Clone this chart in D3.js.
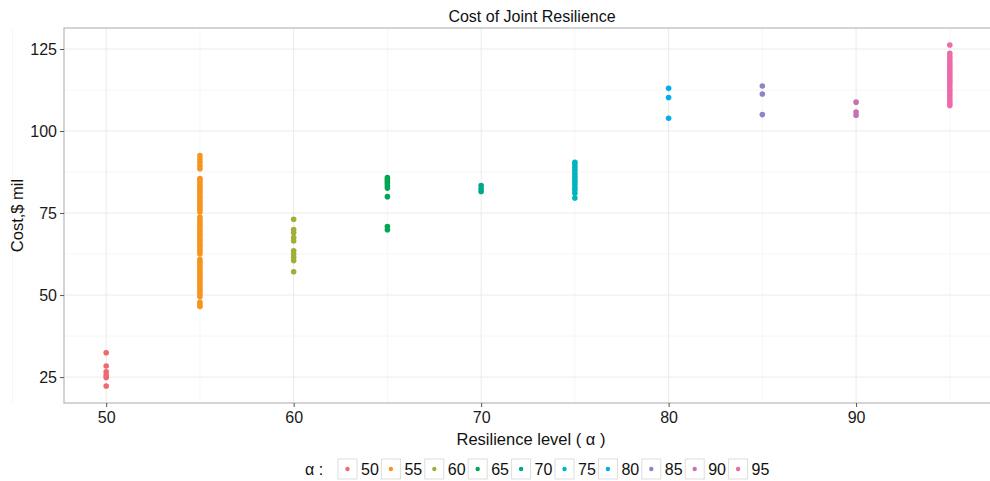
<!DOCTYPE html>
<meta charset="utf-8">
<script src="https://d3js.org/d3.v7.min.js"></script>
<style>
  body { margin: 0; background: #fff; }
  text { font-family: "Liberation Sans", Arial, sans-serif; }
</style>
<div id="chart"></div>
<script>

// resilience levels and the costs ($ mil)
var levels = [50, 55, 60, 65, 70, 75, 80, 85, 90, 95];
var colors = ["#EE6A6E", "#F7941D", "#A3AD3A", "#00A651", "#00A88A",
              "#00B4C0", "#00AEEF", "#8C87C4", "#C771B5", "#EE6AA8"];

var cost50 = [32.4, 28.4, 26.6, 25.6, 24.9, 22.3];
var cost55 = [92.5, 91.5, 90.5, 89.5, 88.5,
              85.5, 85, 84.2, 83.5, 82.8, 82, 81.3, 80.5, 79.8, 79, 78.3, 77.5, 76.8, 76, 75.3,
              73.8, 73, 72.3, 71.5, 70.8, 70, 69.3, 68.5, 67.8, 67, 66.3, 65.5, 64.8, 64, 63.3, 62.5,
              60.8, 60, 59.3, 58.5, 57.8, 57, 56.3, 55.5, 54.8, 54, 53.3, 52.5, 51.8, 51, 50.3, 49.5,
              47.8, 47, 46.5];
var cost60 = [73.1, 70, 69, 67.5, 66.5, 63.5, 62.5, 61.5, 60.5, 57.1];
var cost65 = [85.8, 85.2, 84.6, 84, 83.3, 82.6, 80, 70.9, 69.9];
var cost70 = [83.4, 82.4, 81.6];
var cost75 = [90.5, 89.7, 88.9, 88, 87, 86.2, 85.4, 84.6, 83.8, 82.8, 82, 81, 79.6];
var cost80 = [113, 110.2, 103.9];
var cost85 = [113.7, 111.3, 105];
var cost90 = [108.8, 105.8, 104.8];
var cost95 = [126.2, 123.7, 122.8, 122, 121.2, 120.4, 119.7, 119, 118.3, 117.6, 116.9, 116.2,
              115.5, 114.8, 114, 113.2, 112.4, 111.6, 110.8, 110, 109.2, 108.5, 107.8];

var costs = [cost50, cost55, cost60, cost65, cost70, cost75, cost80, cost85, cost90, cost95];

var xTicks = [50, 60, 70, 80, 90];
var yTicks = [25, 50, 75, 100, 125];

var points = [];
levels.forEach(function(lv, i) {
  costs[i].forEach(function(c) { points.push({level: lv, cost: c, idx: i}); });
});

var W = 990, H = 481;
var panel = {left: 64, top: 28, right: 992, bottom: 403};

var svg = d3.select("#chart").append("svg")
    .attr("width", W)
    .attr("height", H);

var x = d3.scaleLinear().domain([47.75, 97.25]).range([panel.left, panel.right]);
var y = d3.scaleLinear().domain([17.1, 131.4]).range([panel.bottom, panel.top]);

// grid: minor then major
var grid = svg.append("g");
[45, 55, 65, 75, 85, 95].forEach(function(v) {
  grid.append("line").attr("x1", x(v)).attr("x2", x(v))
    .attr("y1", panel.top).attr("y2", panel.bottom)
    .attr("stroke", "#F4F4F4").attr("stroke-width", 0.8);
});
[37.5, 62.5, 87.5, 112.5].forEach(function(v) {
  grid.append("line").attr("y1", y(v)).attr("y2", y(v))
    .attr("x1", panel.left).attr("x2", panel.right)
    .attr("stroke", "#F4F4F4").attr("stroke-width", 0.8);
});
xTicks.forEach(function(v) {
  grid.append("line").attr("x1", x(v)).attr("x2", x(v))
    .attr("y1", panel.top).attr("y2", panel.bottom)
    .attr("stroke", "#EBEBEB").attr("stroke-width", 1);
});
yTicks.forEach(function(v) {
  grid.append("line").attr("y1", y(v)).attr("y2", y(v))
    .attr("x1", panel.left).attr("x2", panel.right)
    .attr("stroke", "#EBEBEB").attr("stroke-width", 1);
});

// points
svg.append("g").selectAll("circle")
  .data(points)
  .enter()
  .append("circle")
    .attr("cx", function(d) { return x(d.level); })
    .attr("cy", function(d) { return y(d.cost); })
    .attr("r", 2.8)
    .attr("fill", function(d) { return colors[d.idx]; });

// panel border
svg.append("rect")
  .attr("x", panel.left).attr("y", panel.top)
  .attr("width", panel.right - panel.left).attr("height", panel.bottom - panel.top)
  .attr("fill", "none").attr("stroke", "#B8B8B8").attr("stroke-width", 1.2);

// axes
var xAxis = svg.append("g")
  .attr("transform", "translate(0," + panel.bottom + ")")
  .call(d3.axisBottom(x).tickValues(xTicks).tickSize(4).tickPadding(5));
var yAxis = svg.append("g")
  .attr("transform", "translate(" + panel.left + ",0)")
  .call(d3.axisLeft(y).tickValues(yTicks).tickSize(4).tickPadding(3));
[xAxis, yAxis].forEach(function(a) {
  a.select(".domain").remove();
  a.selectAll(".tick line").attr("stroke", "#555");
  a.selectAll(".tick text")
    .attr("font-family", "Liberation Sans, Arial, sans-serif")
    .attr("font-size", 16).attr("fill", "#1a1a1a");
});

// titles
svg.append("text")
  .attr("x", (panel.left + 990) / 2 + 5).attr("y", 22)
  .attr("text-anchor", "middle").attr("font-size", 16).attr("fill", "#111")
  .text("Cost of Joint Resilience");

svg.append("text")
  .attr("x", (panel.left + 990) / 2 + 4).attr("y", 445)
  .attr("text-anchor", "middle").attr("font-size", 16.5).attr("fill", "#111")
  .text("Resilience level ( α )");

svg.append("text")
  .attr("transform", "translate(23," + ((panel.top + panel.bottom) / 2) + ") rotate(-90)")
  .attr("text-anchor", "middle").attr("font-size", 16.5).attr("fill", "#111")
  .text("Cost,$ mil");

// legend
var legend = svg.append("g").attr("transform", "translate(0,469)");
legend.append("text")
  .attr("x", 305).attr("y", 6)
  .attr("font-size", 16).attr("fill", "#111")
  .text("α :");

var item = legend.selectAll(".item")
  .data(levels)
  .enter()
  .append("g")
    .attr("transform", function(d, i) { return "translate(" + (338 + i * 43.4) + ",0)"; });
item.append("rect")
  .attr("x", 0).attr("y", -10).attr("width", 19).attr("height", 20)
  .attr("fill", "#fff").attr("stroke", "#DDDDDD").attr("stroke-width", 1);
item.append("circle")
  .attr("cx", 9.5).attr("cy", 0).attr("r", 2.2)
  .attr("fill", function(d, i) { return colors[i]; });
item.append("text")
  .attr("x", 23).attr("y", 6)
  .attr("font-size", 16).attr("fill", "#111")
  .text(function(d) { return d; });

</script>
